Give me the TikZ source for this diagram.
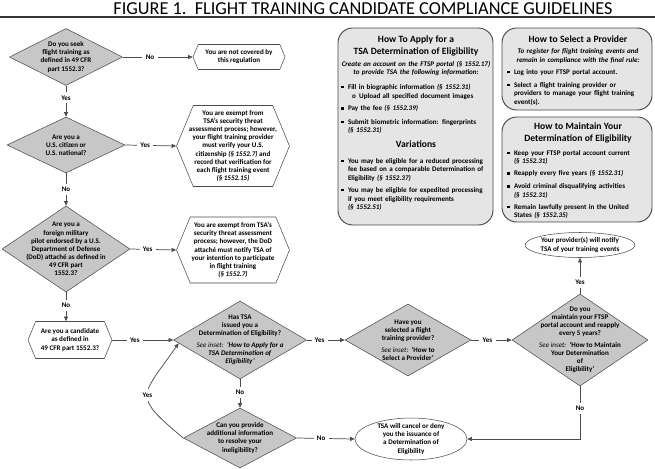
\documentclass[tikz,border=0pt]{standalone}
\usepackage{fontspec}
\setmainfont{Carlito}
\usetikzlibrary{shapes.geometric,shapes.symbols,arrows.meta}
\definecolor{qgray}{gray}{0.78}
\definecolor{boxgray}{gray}{0.9}
\definecolor{linegray}{gray}{0.3}
\newcommand\smalltxt{\fontsize{5.3}{6.1}\selectfont\bfseries}
\newcommand\insettxt{\fontsize{5.3}{6.4}\selectfont\bfseries}
\newcommand\headtxt{\fontsize{7.2}{9}\selectfont\bfseries}
\newcommand\cfr[1]{\textit{(§ #1)}}
\newcommand\seeinset{\textmd{\textit{See inset:}}\ \ }
\newlength\bulskip
\setlength\bulskip{3.8pt}
\newcommand\bul[1]{\par\vspace{\bulskip}\noindent\hbox to 5pt{\rule[0.9pt]{1.7pt}{1.7pt}\hfil}%
  \parbox[t]{\dimexpr\hsize-5pt\relax}{\raggedright #1}\par}
\tikzset{
  sz/.style 2 args={minimum width=#1*0.75pt,minimum height=#2*0.75pt},
  question/.style={diamond,draw=linegray,fill=qgray,inner sep=-20pt,align=center,font=\smalltxt},
  info/.style={signal,signal to=east and west,signal from=nowhere,signal pointer angle=135,
    draw=linegray,fill=white,inner xsep=-12pt,inner ysep=0pt,align=center,font=\smalltxt},
  result/.style={ellipse,draw=linegray,fill=white,inner sep=-4pt,align=center,font=\smalltxt},
  inset/.style={draw=gray!55!black,fill=boxgray,rounded corners=11pt,line width=0.7pt},
  insettext/.style={text width=#1,align=left,inner sep=0pt,font=\insettxt,anchor=north},
  arr/.style={draw=linegray,line width=0.55pt,-{Triangle[length=3.5pt,width=3pt]}},
  lbl/.style={fill=white,inner sep=2.5pt,font=\smalltxt}
}
\begin{document}
\begin{tikzpicture}[x=0.75pt,y=-0.75pt]
\useasboundingbox (0,0) rectangle (655,468);
\node[font=\fontsize{13.7}{16}\selectfont] (title) at (363,9) {FIGURE 1.\ \ FLIGHT TRAINING CANDIDATE COMPLIANCE GUIDELINES};
\draw[line width=1.3pt,gray!40!black] (0,17) -- (655,17);

% insets
\node[inset,sz={155}{197}] (apply) at (415.5,126.5) {};
\node[inset,sz={150}{82}] (select) at (577,69) {};
\node[inset,sz={150}{105}] (maintain) at (577,169.5) {};

\node[insettext=112pt] (applytext) at (416,35) {%
{\centering\headtxt How To Apply for a\\TSA Determination of Eligibility\par}
\vspace{2.6pt}
{\centering\itshape Create an account on the FTSP portal (§ 1552.17)\\to provide TSA the following information:\par}
\vspace{1pt}
\bul{Fill in biographic information \cfr{1552.31}\\\hspace*{3pt}o\hspace{2.5pt}Upload all specified document images}
\bul{Pay the fee \cfr{1552.39}}
\bul{Submit biometric information: fingerprints\\\cfr{1552.31}}
\vspace{4pt}
{\centering\headtxt Variations\par}
\vspace{1.5pt}
\bul{You may be eligible for a reduced processing\\fee based on a comparable Determination of\\Eligibility \cfr{1552.37}}
\bul{You may be eligible for expedited processing\\if you meet eligibility requirements\\\cfr{1552.51}}};

\node[insettext=106pt] (selecttext) at (578,35) {\setlength\bulskip{3pt}%
{\centering\headtxt How to Select a Provider\par}
\vspace{2.2pt}
{\centering\itshape To register for flight training events and\\remain in compliance with the final rule:\par}
\bul{Log into your FTSP portal account.}
\bul{Select a flight training provider or\\providers to manage your flight training\\event(s).}};

\node[insettext=106pt] (maintaintext) at (578,122) {\setlength\bulskip{3.3pt}%
{\centering\headtxt How to Maintain Your\\Determination of Eligibility\par}
\vspace{1pt}
\bul{Keep your FTSP portal account current\\\cfr{1552.31}}
\bul{Reapply every five years \cfr{1552.31}}
\bul{Avoid criminal disqualifying activities\\\cfr{1552.31}}
\bul{Remain lawfully present in the United\\States \cfr{1552.35}}};

% questions
\node[question,sz={113}{57}] (d1) at (66,57) {Do you seek\\flight training as\\defined in 49 CFR\\part 1552.3?};
\node[question,sz={118}{56}] (d2) at (66,145) {Are you a\\U.S. citizen or\\U.S. national?};
\node[question,sz={128}{86}] (d3) at (66,249) {Are you a\\foreign military\\pilot endorsed by a U.S.\\Department of Defense\\(DoD) attaché as defined in\\49 CFR part\\1552.3?};
\node[question,sz={133}{78}] (d4) at (240,340) {Has TSA\\issued you a\\Determination of Eligibility?\\[2.5pt]\seeinset\textit{`How to Apply for a}\\\textit{TSA Determination of}\\\textit{Eligibility'}};
\node[question,sz={126}{72}] (d5) at (408,340) {Have you\\selected a flight\\training provider?\\[2.5pt]\seeinset`How to\\Select a Provider'};
\node[question,sz={136}{92}] (d6) at (580,340) {Do you\\maintain your FTSP\\portal account and reapply\\every 5 years?\\[2.5pt]\seeinset`How to Maintain\\Your Determination\\of\\Eligibility'};
\node[question,sz={113}{60}] (d7) at (240,438) {Can you provide\\additional information\\to resolve your\\ineligibility?};

% outcomes
\node[info,sz={92}{25}] (h1) at (239,57) {You are not covered by\\this regulation};
\node[info,sz={113}{81}] (h2) at (233,146) {You are exempt from\\TSA's security threat\\assessment process; however,\\your flight training provider\\must verify your U.S.\\citizenship \cfr{1552.7} and\\record that verification for\\each flight training event\\\cfr{1552.15}};
\node[info,sz={113}{66}] (h3) at (233,250) {You are exempt from TSA's\\security threat assessment\\process; however, the DoD\\attaché must notify TSA of\\your intention to participate\\in flight training\\\cfr{1552.7}};
\node[info,sz={84}{37}] (h4) at (70,340) {Are you a candidate\\as defined in\\49 CFR part 1552.3?};
\node[result,sz={110}{25}] (e1) at (580,245) {Your provider(s) will notify\\TSA of your training events};
\node[result,sz={112}{42}] (e2) at (411,439) {TSA will cancel or deny\\you the issuance of\\a Determination of\\Eligibility};

% connectors
\foreach \a/\b/\t/\p in {d1.east/h1.west/No/.39, d1.south/d2.north/Yes/.39, d2.east/h2.west/Yes/.39,
  d2.south/d3.north/No/.5, d3.east/h3.west/Yes/.38, h4.east/d4.west/Yes/.37, d4.east/d5.west/Yes/.34,
  d5.east/d6.west/Yes/.4, d6.north/e1.south/Yes/.31, d4.south/d7.north/No/.47, d7.east/e2.west/No/.42}
  \draw[arr] (\a) -- node[lbl,pos=\p] {\t} (\b);
\draw[arr] (d3.south) -- node[lbl,pos=.45] {No} (d3.south |- h4.north);
\draw[arr] (d6.south) |- node[lbl,pos=.21] {No} (e2.east);
\draw[arr] (d7.west) to[out=140,in=235,looseness=1.8] node[lbl] {Yes} (d4.183);
\end{tikzpicture}
\end{document}
